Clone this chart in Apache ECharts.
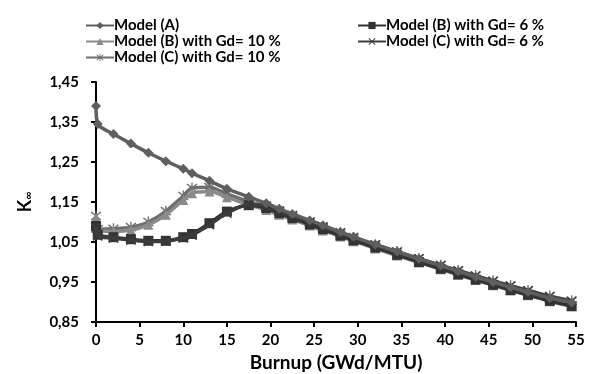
<!DOCTYPE html>
<html>
<head>
<meta charset="utf-8">
<script src="https://cdn.jsdelivr.net/npm/echarts@6/dist/echarts.min.js"></script>
<style>
  html, body { margin: 0; padding: 0; background: #fff; }
  #main { width: 589px; height: 374px; }
</style>
</head>
<body>
<div id="main"></div>
<script>
// burnup steps (GWd/MTU)
var burnup = [0, 0.2, 2, 4, 6, 8, 10, 11, 13, 15, 17.5, 19.5, 21, 22.5, 24.5, 26, 28, 29.5, 32, 34.5, 37, 39.5, 41.5, 43.5, 45.5, 47.5, 49.5, 52, 54.5];

var modelA = [1.390, 1.345, 1.320, 1.296, 1.273, 1.252, 1.233, 1.222, 1.203, 1.183, 1.163, 1.147, 1.133, 1.120, 1.104, 1.092, 1.075, 1.063, 1.044, 1.026, 1.008, 0.991, 0.977, 0.963, 0.950, 0.937, 0.925, 0.910, 0.899];
var modelB6 = [1.090, 1.068, 1.062, 1.057, 1.053, 1.053, 1.062, 1.070, 1.097, 1.126, 1.142, 1.135, 1.122, 1.110, 1.094, 1.082, 1.066, 1.054, 1.036, 1.018, 1.000, 0.983, 0.969, 0.956, 0.943, 0.930, 0.918, 0.903, 0.890];
var modelB10 = [1.110, 1.078, 1.077, 1.080, 1.093, 1.118, 1.155, 1.172, 1.176, 1.162, 1.143, 1.130, 1.118, 1.106, 1.091, 1.079, 1.064, 1.052, 1.034, 1.016, 0.999, 0.982, 0.968, 0.955, 0.942, 0.929, 0.917, 0.902, 0.889];
var modelC6 = [1.085, 1.065, 1.060, 1.055, 1.051, 1.052, 1.060, 1.067, 1.093, 1.122, 1.143, 1.140, 1.128, 1.116, 1.100, 1.088, 1.073, 1.061, 1.043, 1.025, 1.008, 0.991, 0.978, 0.965, 0.952, 0.940, 0.928, 0.914, 0.902];
var modelC10 = [1.115, 1.082, 1.083, 1.087, 1.100, 1.127, 1.165, 1.185, 1.187, 1.170, 1.151, 1.139, 1.127, 1.116, 1.100, 1.088, 1.073, 1.061, 1.043, 1.026, 1.009, 0.992, 0.979, 0.966, 0.953, 0.941, 0.929, 0.915, 0.903];

var names = ['Model (A)', 'Model (B) with Gd= 6 %', 'Model (B) with Gd= 10 %', 'Model (C) with Gd= 6 %', 'Model (C) with Gd= 10 %'];

var crossPath = 'path://M1,0 L5,4 L9,0 L10,1 L6,5 L10,9 L9,10 L5,6 L1,10 L0,9 L4,5 L0,1 Z';
var starPath = 'path://M1,0 L5,4 L9,0 L10,1 L6,5 L10,9 L9,10 L5,6 L1,10 L0,9 L4,5 L0,1 Z M4.4,-1 L5.6,-1 L5.6,11 L4.4,11 Z';

function pairs(vals) {
  return burnup.map(function (b, i) { return [b, vals[i]]; });
}

function makeSeries(name, vals, color, symbol, size, z) {
  return {
    name: name,
    type: 'line',
    data: pairs(vals),
    smooth: 0.3,
    symbol: symbol,
    symbolSize: size,
    showSymbol: true,
    z: z,
    lineStyle: { color: color, width: 3.5 },
    itemStyle: { color: color }
  };
}

var fontFam = 'Lato, "Open Sans", sans-serif';
var legendText = { fontSize: 15, fontWeight: 'bold', color: '#000', fontFamily: fontFam, padding: [0, 0, 0, -5], lineHeight: 15 };

var chartDom = document.getElementById('main');
var myChart = echarts.init(chartDom);
var option;

option = {
  animation: false,
  textStyle: { fontFamily: fontFam },
  legend: [
    {
      data: [names[0], names[2], names[4]],
      orient: 'vertical',
      left: 80,
      top: 13,
      itemWidth: 28,
      itemHeight: 9,
      itemGap: 1,
      textStyle: legendText
    },
    {
      data: [names[1], names[3]],
      orient: 'vertical',
      left: 352,
      top: 13,
      itemWidth: 28,
      itemHeight: 9,
      itemGap: 1,
      textStyle: legendText
    }
  ],
  grid: { left: 96, right: 13, top: 82, bottom: 52, outerBoundsMode: 'none', containLabel: false },
  xAxis: {
    type: 'value',
    min: 0,
    max: 55,
    interval: 5,
    name: 'Burnup (GWd/MTU)',
    nameLocation: 'middle',
    nameGap: 30,
    nameTextStyle: { fontSize: 19, fontWeight: 'bold', color: '#000', fontFamily: fontFam },
    axisLine: { lineStyle: { color: '#000', width: 2 } },
    axisTick: { inside: false, length: 5, lineStyle: { color: '#000', width: 2 } },
    axisLabel: { fontSize: 15, fontWeight: 'bold', color: '#000', margin: 11, fontFamily: fontFam },
    splitLine: { show: false }
  },
  yAxis: {
    type: 'value',
    min: 0.85,
    max: 1.45,
    interval: 0.1,
    name: '{k|K}{s|∞}',
    nameLocation: 'middle',
    nameGap: 62,
    nameRotate: 90,
    nameTextStyle: {
      rich: {
        k: { fontSize: 18, fontWeight: 'bold', color: '#000', fontFamily: fontFam },
        s: { fontSize: 11, fontWeight: 'bold', color: '#000', fontFamily: fontFam, verticalAlign: 'bottom', padding: [7, 0, 0, 0] }
      }
    },
    axisLine: { show: true, lineStyle: { color: '#000', width: 2 } },
    axisTick: { show: true, inside: false, length: 5, lineStyle: { color: '#000', width: 2 } },
    axisLabel: {
      fontSize: 15,
      fontWeight: 'bold',
      color: '#000',
      margin: 17,
      fontFamily: fontFam,
      formatter: function (v) { return v.toFixed(2).replace('.', ','); }
    },
    splitLine: { show: false }
  },
  series: [
    makeSeries(names[0], modelA, '#5f5f5f', 'diamond', 10, 5),
    makeSeries(names[1], modelB6, '#333333', 'rect', 10, 3),
    makeSeries(names[2], modelB10, '#8a8a8a', 'triangle', 10, 2),
    makeSeries(names[3], modelC6, '#3c3c3c', crossPath, 10, 4),
    makeSeries(names[4], modelC10, '#6e6e6e', starPath, 11, 1)
  ]
};

if (chartDom && myChart) {
  myChart.setOption(option);
} else {
  console.error('Failed to initialize the chart');
}
</script>
</body>
</html>
